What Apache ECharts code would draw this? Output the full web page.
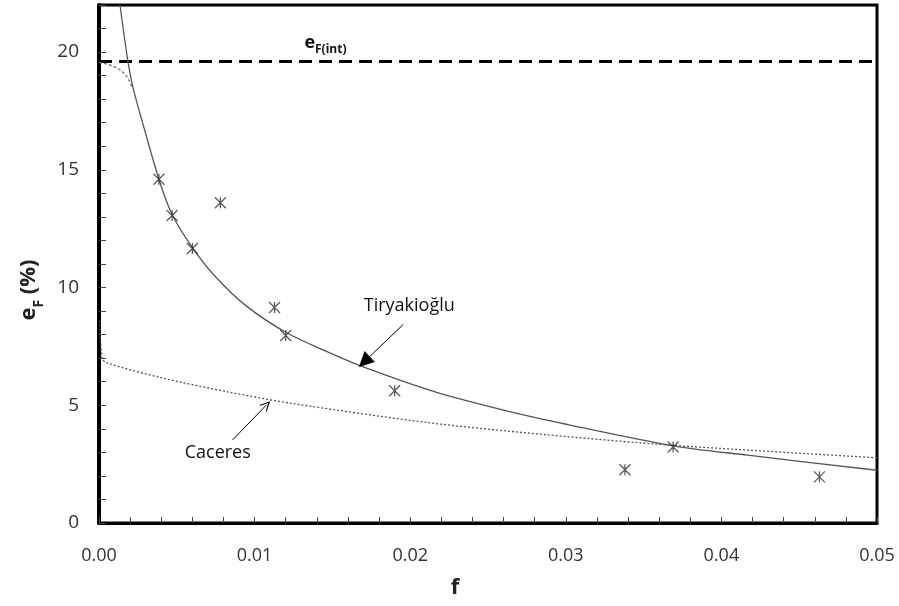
<!DOCTYPE html>
<html>
<head>
<meta charset="utf-8">
<script src="https://cdn.jsdelivr.net/npm/echarts@6/dist/echarts.min.js"></script>
<style>
  html, body { margin: 0; padding: 0; background: #fff; }
  #chart { width: 899px; height: 606px; }
</style>
</head>
<body>
<div id="chart"></div>
<script>
// Measured elongation points (f, e_F %)
const pointF = [0.00385, 0.0047, 0.006, 0.0078, 0.01128, 0.012, 0.019, 0.0338, 0.0369, 0.0463];
const pointE = [14.6, 13.06, 11.66, 13.6, 9.15, 7.96, 5.62, 2.26, 3.23, 1.96];

// Tiryakioğlu model curve
const tiryF = [0.00135, 0.00186, 0.00218, 0.00276, 0.00385, 0.0047, 0.006, 0.0075, 0.0095, 0.012, 0.0144, 0.0169, 0.0217, 0.0272, 0.0302, 0.0369, 0.0417, 0.05];
const tiryE = [22.0, 19.6, 18.5, 17.1, 14.6, 13.1, 11.7, 10.45, 9.2, 8.1, 7.35, 6.65, 5.55, 4.6, 4.17, 3.28, 2.88, 2.24];

// Bounded branch of the model approaching e_F(int) as f -> 0
const capF = [0, 0.0009, 0.00167, 0.0021];
const capE = [19.56, 19.4, 19.06, 18.54];

// Caceres model curve
const cacF = [0.00005, 0.0002, 0.0005, 0.004, 0.00827, 0.0125, 0.0212, 0.0289, 0.0369, 0.05];
const cacE = [8.6, 7.0, 6.8, 6.17, 5.57, 5.07, 4.26, 3.74, 3.3, 2.77];

// Intrinsic elongation level
const efInt = 19.6;

// Axis settings
const xTickStep = 0.002, xMax = 0.05;
const yTickStep = 1, yMax = 22;

const zip = (xs, ys) => xs.map((x, i) => [x, ys[i]]);

const chart = echarts.init(document.getElementById('chart'), null, { renderer: 'canvas' });
const FONT = '"Open Sans", "Liberation Sans", sans-serif';

const option = {
  animation: false,
  backgroundColor: '#fff',
  grid: { left: 99, right: 22, top: 5, bottom: 83, show: true, borderColor: '#000', borderWidth: 3 },
  xAxis: {
    type: 'value', min: 0, max: xMax, interval: xTickStep,
    axisLine: { show: true, onZero: false, lineStyle: { color: '#000', width: 3 } },
    axisTick: { show: true, inside: true, length: 6, lineStyle: { color: '#444', width: 1 } },
    splitLine: { show: false },
    axisLabel: {
      margin: 24, color: '#333', fontSize: 18, fontFamily: FONT,
      formatter: v => (Math.abs(v * 100 - Math.round(v * 100)) < 1e-6 ? v.toFixed(2) : '')
    },
    name: 'f', nameLocation: 'middle', nameGap: 54,
    nameTextStyle: { fontSize: 22, fontWeight: 'bold', color: '#222', fontFamily: FONT, padding: [0, 66, 0, 0] }
  },
  yAxis: {
    type: 'value', min: 0, max: yMax, interval: yTickStep,
    axisLine: { show: true, onZero: false, lineStyle: { color: '#000', width: 4 } },
    axisTick: { show: true, inside: true, length: 7, lineStyle: { color: '#444', width: 1 } },
    splitLine: { show: false },
    axisLabel: {
      margin: 20, color: '#333', fontSize: 19, fontFamily: FONT,
      formatter: v => (v % 5 === 0 ? String(v) : '')
    },
    name: '{e|e}{s|F}{e| (%)}', nameLocation: 'middle', nameRotate: 90, nameGap: 55,
    nameTextStyle: {
      padding: [0, 52, 0, 0],
      rich: {
        e: { fontSize: 22, fontWeight: 'bold', color: '#222', fontFamily: FONT, lineHeight: 26, verticalAlign: 'top' },
        s: { fontSize: 14, fontWeight: 'bold', color: '#222', fontFamily: FONT, lineHeight: 14, padding: [14, 0, 0, 0], verticalAlign: 'top' }
      }
    }
  },
  series: [
    {
      name: 'eFint', type: 'line', data: [[0, efInt], [xMax, efInt]],
      showSymbol: false, silent: true,
      lineStyle: { color: '#000', width: 3, type: [13, 7] }, z: 3
    },
    {
      name: 'Tiryakioğlu', type: 'line', data: zip(tiryF, tiryE),
      showSymbol: false, smooth: 0.3, silent: true,
      lineStyle: { color: '#555', width: 1.3 }
    },
    {
      name: 'Tiryakioğlu bound', type: 'line', data: zip(capF, capE),
      showSymbol: false, smooth: 0.4, silent: true,
      lineStyle: { color: '#666', width: 1.2, type: [3, 2] }
    },
    {
      name: 'Caceres', type: 'line', data: zip(cacF, cacE),
      showSymbol: false, smooth: 0.3, silent: true,
      lineStyle: { color: '#555', width: 1.3, type: [2, 2] }
    },
    {
      name: 'Data', type: 'scatter', data: zip(pointF, pointE),
      symbol: 'path://M0,0L10,10M10,0L0,10M5,0L5,10', symbolSize: 11,
      itemStyle: { color: 'none', borderColor: '#333', borderWidth: 1.3 }, z: 5
    },
    {
      name: 'arrowT', type: 'line', data: [], silent: true,
      markLine: {
        silent: true, animation: false, label: { show: false },
        symbol: ['none', 'triangle'], symbolSize: 15,
        lineStyle: { color: '#000', width: 1, type: 'solid' },
        itemStyle: { color: '#000' },
        data: [[{ coord: [0.01955, 8.43] }, { coord: [0.01705, 6.85] }]]
      }
    },
    {
      name: 'arrowC', type: 'line', data: [], silent: true,
      markLine: {
        silent: true, animation: false, label: { show: false },
        symbol: ['none', 'path://M0,10L5,0L10,10L8.8,10L5,2.6L1.2,10Z'], symbolSize: 10,
        lineStyle: { color: '#000', width: 1, type: 'solid' },
        itemStyle: { color: '#000' },
        data: [[{ coord: [0.00859, 3.53] }, { coord: [0.01077, 5.02] }]]
      }
    }
  ]
};

chart.setOption(option);

// Text annotations anchored in data coordinates
const notes = [
  { at: [0.01994, 9.23], text: 'Tiryakioğlu', align: 'center' },
  { at: [0.00763, 2.98], text: 'Caceres', align: 'center' }
];
const graphics = notes.map(n => {
  const p = chart.convertToPixel({ gridIndex: 0 }, n.at);
  return {
    type: 'text', x: p[0], y: p[1], z: 10,
    style: { text: n.text, fill: '#111', font: '18px ' + FONT, textAlign: n.align, textVerticalAlign: 'middle' }
  };
});
const lab = chart.convertToPixel({ gridIndex: 0 }, [0.0132, 20.35]);
graphics.push({
  type: 'text', x: lab[0], y: lab[1], z: 10,
  style: {
    text: '{e|e}{s|F(int)}',
    textVerticalAlign: 'middle',
    rich: {
      e: { fontSize: 18, fontWeight: 'bold', fill: '#111', fontFamily: FONT, lineHeight: 20, verticalAlign: 'top' },
      s: { fontSize: 12, fontWeight: 'bold', fill: '#111', fontFamily: FONT, lineHeight: 12, padding: [10, 0, 0, 0], verticalAlign: 'top' }
    }
  }
});
chart.setOption({ graphic: graphics });
</script>
</body>
</html>
